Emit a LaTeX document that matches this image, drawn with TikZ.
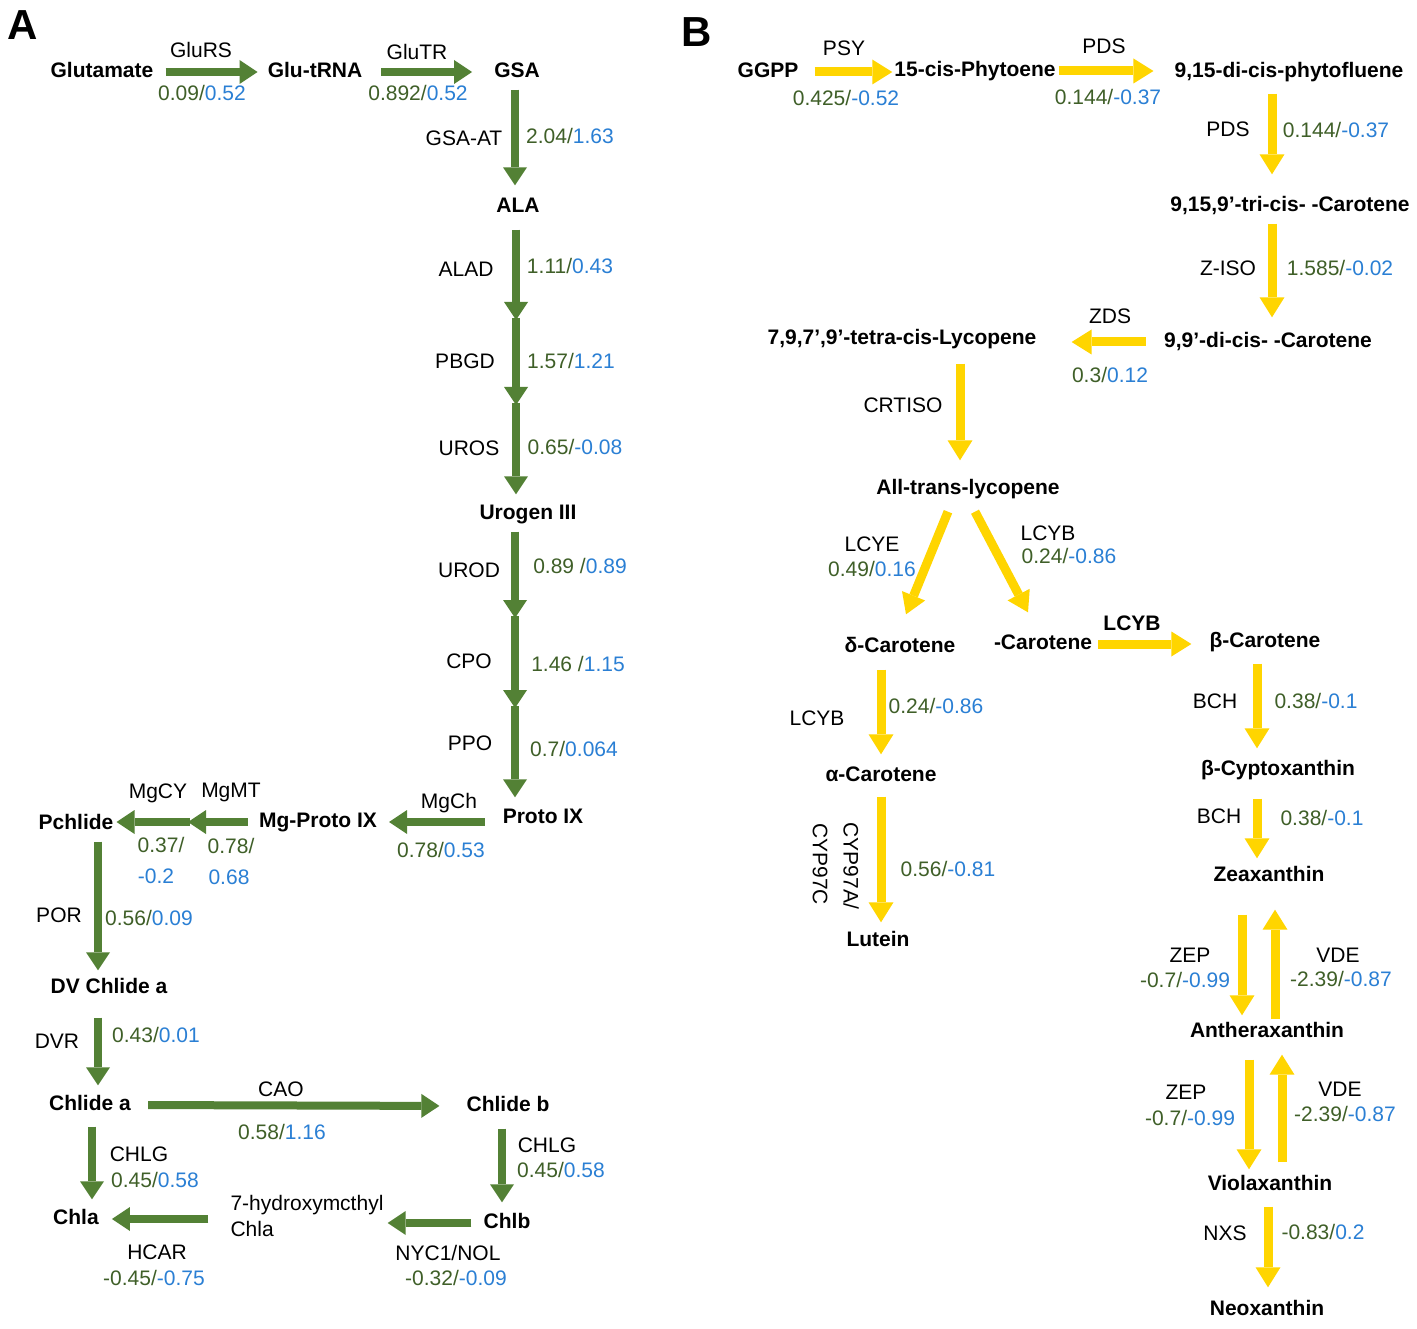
\documentclass[tikz,border=0pt]{standalone}
\usepackage{fontspec}
\setmainfont{Liberation Sans}
\usetikzlibrary{arrows.meta}
\definecolor{arrgreen}{HTML}{538135}
\definecolor{arryellow}{HTML}{FFD500}
\definecolor{numgreen}{HTML}{3F5F28}
\definecolor{numblue}{HTML}{2A7FD4}
\newcommand\vals[2]{\textcolor{numgreen}{#1}\textcolor{numblue}{#2}}
\begin{document}
\begin{tikzpicture}[x=1pt,y=-1pt,
  met/.style={font=\fontsize{21}{26}\selectfont\bfseries, inner sep=2pt, text height=15pt, text depth=4pt, yshift=-2pt},
  lab/.style={font=\fontsize{21}{26}\selectfont, inner sep=1pt},
  panel/.style={font=\fontsize{42}{46}\selectfont\bfseries, inner sep=0pt},
  garr/.style={draw=arrgreen, line width=8pt, -{Triangle[width=24pt,length=18pt,line width=0pt]}},
  yarr/.style={draw=arryellow, line width=9pt, -{Triangle[width=25pt,length=20pt,line width=0pt]}}]
\useasboundingbox (0,0) rectangle (1417,1329);
\fill[white] (0,0) rectangle (1417,1329);

% panel labels
\node[panel] (pA) at (23,25) {A};
\node[panel] (pB) at (697,32) {B};

% ---------------- Panel A nodes
\node[met] (glu) at (102,70) {Glutamate};
\node[met] (gtrna) at (315,70) {Glu-tRNA};
\node[met] (gsa) at (517,70) {GSA};
\node[met] (ala) at (518,205) {ALA};
\node[met] (uro) at (528,512) {Urogen III};
\node[met] (proto) at (543,816) {Proto IX};
\node[met] (mgp) at (318,820) {Mg-Proto IX};
\node[met] (pch) at (76,822) {Pchlide};
\node[met] (dvc) at (109,986) {DV Chlide a};
\node[met] (cha) at (90,1103) {Chlide a};
\node[met] (chb) at (508,1104) {Chlide b};
\node[met] (chla) at (76,1217) {Chla};
\node[met] (chlb) at (507,1221) {Chlb};
\node[lab, align=left] (hyd) at (307,1216) {7-hydroxymcthyl\\Chla};

% ---------------- Panel A labels
\node[lab] (l1) at (201,50) {GluRS};
\node[lab] (v1) at (202,93) {\vals{0.09/}{0.52}};
\node[lab] (l2) at (417,52) {GluTR};
\node[lab] (v2) at (418,93) {\vals{0.892/}{0.52}};
\node[lab] (l3) at (464,138) {GSA-AT};
\node[lab] (v3) at (570,136) {\vals{2.04/}{1.63}};
\node[lab] (l4) at (466,269) {ALAD};
\node[lab] (v4) at (570,266) {\vals{1.11/}{0.43}};
\node[lab] (l5) at (465,361) {PBGD};
\node[lab] (v5) at (571,361) {\vals{1.57/}{1.21}};
\node[lab] (l6) at (469,448) {UROS};
\node[lab] (v6) at (575,447) {\vals{0.65/}{-0.08}};
\node[lab] (l7) at (469,570) {UROD};
\node[lab] (v7) at (580,566) {\vals{0.89 /}{0.89}};
\node[lab] (l8) at (469,661) {CPO};
\node[lab] (v8) at (578,664) {\vals{1.46 /}{1.15}};
\node[lab] (l9) at (470,743) {PPO};
\node[lab] (v9) at (574,749) {\vals{0.7/}{0.064}};
\node[lab] (l10) at (449,803) {MgCh};
\node[lab] (v10) at (441,850) {\vals{0.78/}{0.53}};
\node[lab] (l11) at (158,793) {MgCY};
\node[lab] (l12) at (231,792) {MgMT};
\node[lab] (v11a) at (161,845) {\vals{0.37/}{}};
\node[lab] (v11b) at (156,876) {\vals{}{-0.2}};
\node[lab] (v12a) at (231,846) {\vals{0.78/}{}};
\node[lab] (v12b) at (229,877) {\vals{}{0.68}};
\node[lab] (l13) at (59,915) {POR};
\node[lab] (v13) at (149,918) {\vals{0.56/}{0.09}};
\node[lab] (l14) at (57,1041) {DVR};
\node[lab] (v14) at (156,1035) {\vals{0.43/}{0.01}};
\node[lab] (l15) at (281,1089) {CAO};
\node[lab] (v15) at (282,1132) {\vals{0.58/}{1.16}};
\node[lab] (l16) at (139,1154) {CHLG};
\node[lab] (v16) at (155,1180) {\vals{0.45/}{0.58}};
\node[lab] (l17) at (547,1145) {CHLG};
\node[lab] (v17) at (561,1170) {\vals{0.45/}{0.58}};
\node[lab] (l18) at (448,1253) {NYC1/NOL};
\node[lab] (v18) at (456,1278) {\vals{-0.32/}{-0.09}};
\node[lab] (l19) at (157,1252) {HCAR};
\node[lab] (v19) at (154,1278) {\vals{-0.45/}{-0.75}};

% ---------------- Panel A arrows
\draw[garr, shorten <=10pt, shorten >=8pt] (glu.east) -- (gtrna.west);
\draw[garr, shorten <=17pt, shorten >=20pt] (gtrna.east) -- (gsa.west);
\coordinate (xa) at (515,0);
\draw[garr, shorten <=6pt, shorten >=10pt] (gsa.south -| xa) -- (ala.north -| xa);
\coordinate (ala1) at (516,320);
\coordinate (ala2) at (516,405);
\draw[garr, shorten <=11pt] (ala.south -| ala1) -- (ala1);
\draw[garr] ([yshift=2pt]ala1) -- (ala2);
\draw[garr, shorten >=8pt] ([yshift=2pt]ala2) -- (uro.north -| ala1);
\coordinate (uro1) at (515,618);
\coordinate (uro2) at (515,708);
\draw[garr, shorten <=6pt] (uro.south -| uro1) -- (uro1);
\draw[garr] ([yshift=2pt]uro1) -- (uro2);
\draw[garr, shorten >=9pt] ([yshift=2pt]uro2) -- (proto.north -| uro1);
\draw[garr, shorten <=16pt, shorten >=10pt] (proto.west |- mgp.east) -- (mgp.east);
\coordinate (mgmid) at (188,822);
\draw[garr, shorten <=9pt] (mgp.west) -- (mgmid |- mgp.west);
\draw[garr, shorten >=1pt] ([xshift=2pt]mgmid |- mgp.west) -- (pch.east |- mgp.west);
\coordinate (xp) at (98,0);
\draw[garr, shorten <=6pt, shorten >=6pt] (pch.south -| xp) -- (dvc.north -| xp);
\draw[garr, shorten <=18pt, shorten >=8pt] (dvc.south -| xp) -- (cha.north -| xp);
\draw[garr, shorten <=15pt, shorten >=25pt] (cha.east) -- (chb.west);
\coordinate (xc) at (92,0);
\draw[garr, shorten <=10pt, shorten >=8pt] (cha.south -| xc) -- (chla.north -| xc);
\coordinate (xd) at (502,0);
\draw[garr, shorten <=11pt, shorten >=9pt] (chb.south -| xd) -- (chlb.north -| xd);
\draw[garr, shorten <=10pt, shorten >=3pt] (chlb.west) -- (hyd.east |- chlb.west);
\draw[garr, shorten <=21pt, shorten >=11pt] (hyd.west |- chla.east) -- (chla.east);

% ---------------- Panel B nodes
\node[met] (ggpp) at (768,70) {GGPP};
\node[met] (phy) at (975,69) {15-cis-Phytoene};
\node[met] (pfl) at (1289,70) {9,15-di-cis-phytofluene};
\node[met] (tri) at (1290,204) {9,15,9’-tri-cis- -Carotene};
\node[met] (dic) at (1268,340) {9,9’-di-cis- -Carotene};
\node[met] (tetra) at (902,337) {7,9,7’,9’-tetra-cis-Lycopene};
\node[met] (allt) at (968,487) {All-trans-lycopene};
\node[met] (dcar) at (900,645) {δ-Carotene};
\node[met] (car) at (1043,642) {-Carotene};
\node[met] (bcar) at (1265,640) {β-Carotene};
\node[met] (acar) at (881,774) {α-Carotene};
\node[met] (lut) at (878,939) {Lutein};
\node[met] (bcyp) at (1278,768) {β-Cyptoxanthin};
\node[met] (zea) at (1269,874) {Zeaxanthin};
\node[met] (anth) at (1267,1030) {Antheraxanthin};
\node[met] (viol) at (1270,1183) {Violaxanthin};
\node[met] (neo) at (1267,1308) {Neoxanthin};

% ---------------- Panel B labels
\node[lab] (m1) at (844,48) {PSY};
\node[lab] (w1) at (846,98) {\vals{0.425/}{-0.52}};
\node[lab] (m2) at (1104,46) {PDS};
\node[lab] (w2) at (1108,97) {\vals{0.144/}{-0.37}};
\node[lab] (m3) at (1228,129) {PDS};
\node[lab] (w3) at (1336,130) {\vals{0.144/}{-0.37}};
\node[lab] (m4) at (1228,268) {Z-ISO};
\node[lab] (w4) at (1340,268) {\vals{1.585/}{-0.02}};
\node[lab] (m5) at (1110,316) {ZDS};
\node[lab] (w5) at (1110,375) {\vals{0.3/}{0.12}};
\node[lab] (m6) at (903,405) {CRTISO};
\node[lab] (m7) at (872,544) {LCYE};
\node[lab] (w7) at (872,569) {\vals{0.49/}{0.16}};
\node[lab] (m8) at (1048,533) {LCYB};
\node[lab] (w8) at (1069,556) {\vals{0.24/}{-0.86}};
\node[lab, font=\fontsize{21}{26}\selectfont\bfseries] (m9) at (1132,623) {LCYB};
\node[lab] (m10) at (817,718) {LCYB};
\node[lab] (w10) at (936,706) {\vals{0.24/}{-0.86}};
\node[lab, rotate=-90] (m11) at (851,866) {CYP97A/};
\node[lab, rotate=-90] (m12) at (820,864) {CYP97C};
\node[lab] (w11) at (948,869) {\vals{0.56/}{-0.81}};
\node[lab] (m13) at (1215,701) {BCH};
\node[lab] (w13) at (1316,701) {\vals{0.38/}{-0.1}};
\node[lab] (m14) at (1219,816) {BCH};
\node[lab] (w14) at (1322,818) {\vals{0.38/}{-0.1}};
\node[lab] (m15) at (1190,955) {ZEP};
\node[lab] (w15) at (1185,980) {\vals{-0.7/}{-0.99}};
\node[lab] (m16) at (1338,955) {VDE};
\node[lab] (w16) at (1341,979) {\vals{-2.39/}{-0.87}};
\node[lab] (m17) at (1186,1092) {ZEP};
\node[lab] (w17) at (1190,1118) {\vals{-0.7/}{-0.99}};
\node[lab] (m18) at (1340,1089) {VDE};
\node[lab] (w18) at (1345,1114) {\vals{-2.39/}{-0.87}};
\node[lab] (m19) at (1225,1233) {NXS};
\node[lab] (w19) at (1323,1232) {\vals{-0.83/}{0.2}};

% ---------------- Panel B arrows
\draw[yarr, shorten <=14pt] (ggpp.east) -- (phy.west |- ggpp.east);
\draw[yarr, shorten <=1pt, shorten >=19pt] (phy.east) -- (pfl.west |- phy.east);
\coordinate (xb) at (1272,0);
\draw[yarr, shorten <=10pt, shorten >=20pt] (pfl.south -| xb) -- (tri.north -| xb);
\draw[yarr, shorten <=6pt, shorten >=13pt] (tri.south -| xb) -- (dic.north -| xb);
\draw[yarr, shorten <=16pt, shorten >=33pt] (dic.west) -- (tetra.east |- dic.west);
\coordinate (xt) at (960,0);
\draw[yarr, shorten <=13pt, shorten >=17pt] (tetra.south -| xt) -- (allt.north -| xt);
\draw[yarr] ([xshift=-20pt,yshift=-11pt]allt.south) -- ([xshift=6pt,yshift=21pt]dcar.north);
\draw[yarr] ([xshift=7pt,yshift=-11pt]allt.south) -- ([xshift=-15pt,yshift=20pt]car.north);
\draw[yarr, shorten <=4pt, shorten >=16pt] (car.east) -- (bcar.west |- car.east);
\draw[yarr, shorten <=11pt, shorten >=10pt] (dcar.south -| acar) -- (acar.north);
\draw[yarr, shorten <=9pt, shorten >=7pt] (acar.south) -- (lut.north -| acar);
\coordinate (xbc) at (1257,0);
\draw[yarr, shorten <=10pt, shorten >=10pt] (bcar.south -| xbc) -- (bcyp.north -| xbc);
\draw[yarr, shorten <=17pt, shorten >=6pt] (bcyp.south -| xbc) -- (zea.north -| xbc);
\coordinate (xz1) at (1242,0);
\coordinate (xz2) at (1275,0);
\draw[yarr, shorten <=27pt, shorten >=5pt] (zea.south -| xz1) -- (anth.north -| xz1);
\draw[yarr, shorten <=1pt, shorten >=22pt] (anth.north -| xz2) -- (zea.south -| xz2);
\coordinate (xv1) at (1249,0);
\coordinate (xv2) at (1282,0);
\draw[yarr, shorten <=16pt, shorten >=4pt] (anth.south -| xv1) -- (viol.north -| xv1);
\draw[yarr, shorten <=11pt, shorten >=11pt] (viol.north -| xv2) -- (anth.south -| xv2);
\coordinate (xn) at (1268,0);
\draw[yarr, shorten <=10pt, shorten >=11pt] (viol.south -| xn) -- (neo.north -| xn);
\end{tikzpicture}
\end{document}
